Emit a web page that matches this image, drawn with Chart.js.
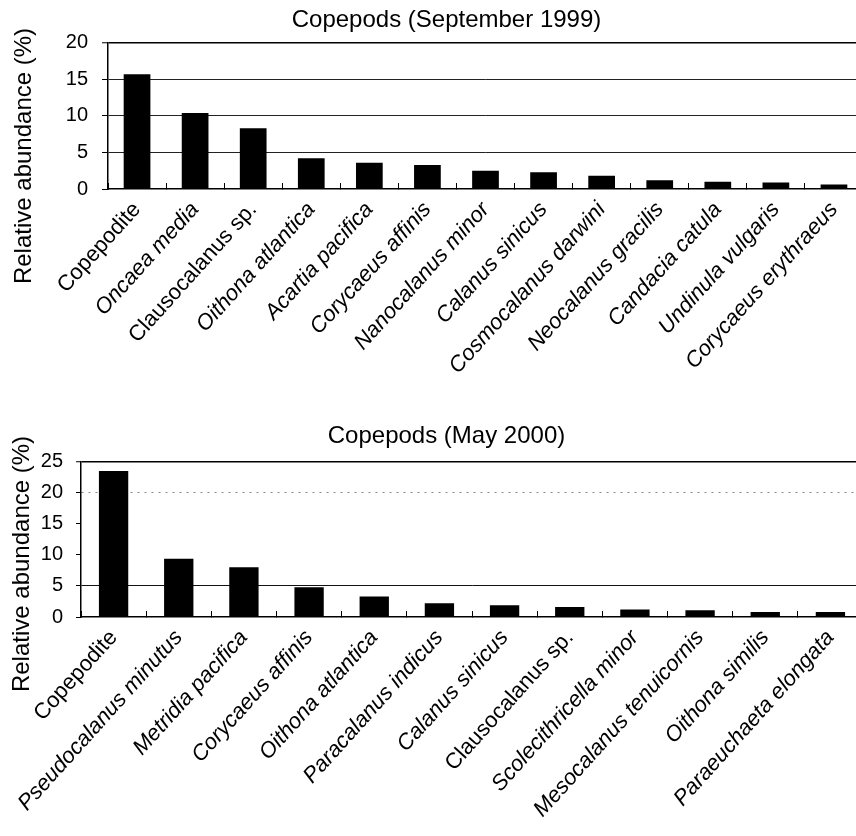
<!DOCTYPE html>
<html>
<head>
<meta charset="utf-8">
<script src="https://cdn.jsdelivr.net/npm/chart.js@4"></script>
<style>
  html, body { margin: 0; padding: 0; background: #fff; overflow: hidden; width: 856px; height: 836px; }
  .panel { position: absolute; left: 0; width: 872px; }
  #sepPanel { top: 0; height: 400px; }
  #mayPanel { top: 400px; height: 436px; }
</style>
</head>
<body>
<div class="panel" id="sepPanel"><canvas id="sepChart"></canvas></div>
<div class="panel" id="mayPanel"><canvas id="mayChart"></canvas></div>
<script>
// Copepod species ranked by relative abundance, September 1999
const sepSpecies = [
  'Copepodite', 'Oncaea media', 'Clausocalanus sp.', 'Oithona atlantica',
  'Acartia pacifica', 'Corycaeus affinis', 'Nanocalanus minor', 'Calanus sinicus',
  'Cosmocalanus darwini', 'Neocalanus gracilis', 'Candacia catula',
  'Undinula vulgaris', 'Corycaeus erythraeus'
];
const sepAbundance = [15.7, 10.4, 8.3, 4.2, 3.6, 3.3, 2.5, 2.3, 1.8, 1.2, 1.0, 0.9, 0.6];
const sepTicks = [0, 5, 10, 15, 20];

// Copepod species ranked by relative abundance, May 2000
const maySpecies = [
  'Copepodite', 'Pseudocalanus minutus', 'Metridia pacifica', 'Corycaeus affinis',
  'Oithona atlantica', 'Paracalanus indicus', 'Calanus sinicus', 'Clausocalanus sp.',
  'Scolecithricella minor', 'Mesocalanus tenuicornis', 'Oithona similis',
  'Paraeuchaeta elongata'
];
const mayAbundance = [23.5, 9.4, 8.0, 4.8, 3.3, 2.2, 1.9, 1.6, 1.2, 1.1, 0.8, 0.8];
const mayTicks = [0, 5, 10, 15, 20, 25];

const sepTitle = 'Copepods (September 1999)';
const mayTitle = 'Copepods (May 2000)';
const yAxisTitle = 'Relative abundance (%)';
// names set in roman type; all other species names are italic
const uprightLabels = ['Copepodite', 'Clausocalanus sp.'];

const FONT = "'Liberation Sans', Arial, Helvetica, sans-serif";

// vertical axis caption drawn beside the value axis
const sideTitle = {
  id: 'sideTitle',
  afterDraw(chart, _args, opts) {
    const ctx = chart.ctx;
    ctx.save();
    ctx.font = `${opts.size}px ${FONT}`;
    ctx.fillStyle = '#000';
    ctx.textAlign = 'center';
    ctx.textBaseline = 'middle';
    ctx.translate(opts.x, opts.y);
    ctx.rotate(-Math.PI / 2);
    ctx.fillText(opts.text, 0, 0);
    ctx.restore();
  }
};

function buildChart(canvasId, labels, values, ticks, title, p) {
  const maxVal = ticks[ticks.length - 1];
  return new Chart(document.getElementById(canvasId), {
    type: 'bar',
    data: {
      labels: labels,
      datasets: [{
        data: values,
        backgroundColor: '#000',
        borderWidth: 0,
        barPercentage: p.barPct,
        categoryPercentage: 1
      }]
    },
    plugins: [sideTitle],
    options: {
      responsive: true,
      maintainAspectRatio: false,
      animation: false,
      events: [],
      layout: { padding: p.layout },
      plugins: {
        legend: { display: false },
        tooltip: { enabled: false },
        title: {
          display: true,
          text: title,
          color: '#000',
          font: { family: FONT, size: 24, weight: 'normal' },
          padding: p.titlePad
        },
        sideTitle: { text: yAxisTitle, x: p.yTitleX, y: p.yTitleY, size: 24 }
      },
      scales: {
        x: {
          grid: {
            offset: true,
            drawOnChartArea: false,
            drawTicks: true,
            tickLength: -6,
            tickColor: '#000',
            tickWidth: 1
          },
          border: { display: true, color: '#000', width: 1.5 },
          ticks: {
            autoSkip: false,
            maxRotation: 48,
            minRotation: 48,
            padding: p.xPad,
            color: '#000',
            font: (ctx) => ({
              family: FONT,
              size: 22,
              style: uprightLabels.includes(labels[ctx.index]) ? 'normal' : 'italic'
            })
          }
        },
        y: {
          min: 0,
          max: maxVal,
          afterBuildTicks: (axis) => { axis.ticks = ticks.map(v => ({ value: v })); },
          afterFit: (axis) => { axis.width = p.yWidth; },
          grid: {
            color: p.gridColor,
            lineWidth: (ctx) => (ctx.tick && ctx.tick.value === maxVal ? 1.5 : 1),
            tickLength: p.yTick,
            tickColor: '#000',
            tickWidth: 1
          },
          border: {
            display: true,
            color: '#000',
            width: 1.5,
            dash: p.gridDash
          },
          ticks: {
            padding: p.yPad,
            color: '#000',
            font: { family: FONT, size: 20 }
          }
        }
      }
    }
  });
}

buildChart('sepChart', sepSpecies, sepAbundance, sepTicks, sepTitle, {
  barPct: 0.46,
  layout: { left: 30, right: 9, top: 0, bottom: 22 },
  yWidth: 78,
  titlePad: { top: 6, bottom: 8 },
  yTitleX: 24, yTitleY: 156,
  xPad: 14,
  yTick: 6, yPad: 14,
  gridColor: (ctx) => {
    const v = ctx.tick ? ctx.tick.value : null;
    if (v === 0) return 'rgba(0,0,0,0)';
    if (v === 20) return '#000';
    return '#222';
  },
  gridDash: () => []
});

buildChart('mayChart', maySpecies, mayAbundance, mayTicks, mayTitle, {
  barPct: 0.45,
  layout: { left: 30, right: 9, top: 0, bottom: 2 },
  yWidth: 51,
  titlePad: { top: 22, bottom: 11 },
  yTitleX: 22, yTitleY: 164,
  xPad: 14,
  yTick: 5, yPad: 13,
  gridColor: (ctx) => {
    const v = ctx.tick ? ctx.tick.value : null;
    if (v === 25) return '#000';
    if (v === 20) return '#8a8a8a';
    if (v === 5) return '#111';
    return 'rgba(0,0,0,0)';
  },
  gridDash: (ctx) => (ctx.tick && ctx.tick.value === 20 ? [2, 5] : [])
});
</script>
</body>
</html>
